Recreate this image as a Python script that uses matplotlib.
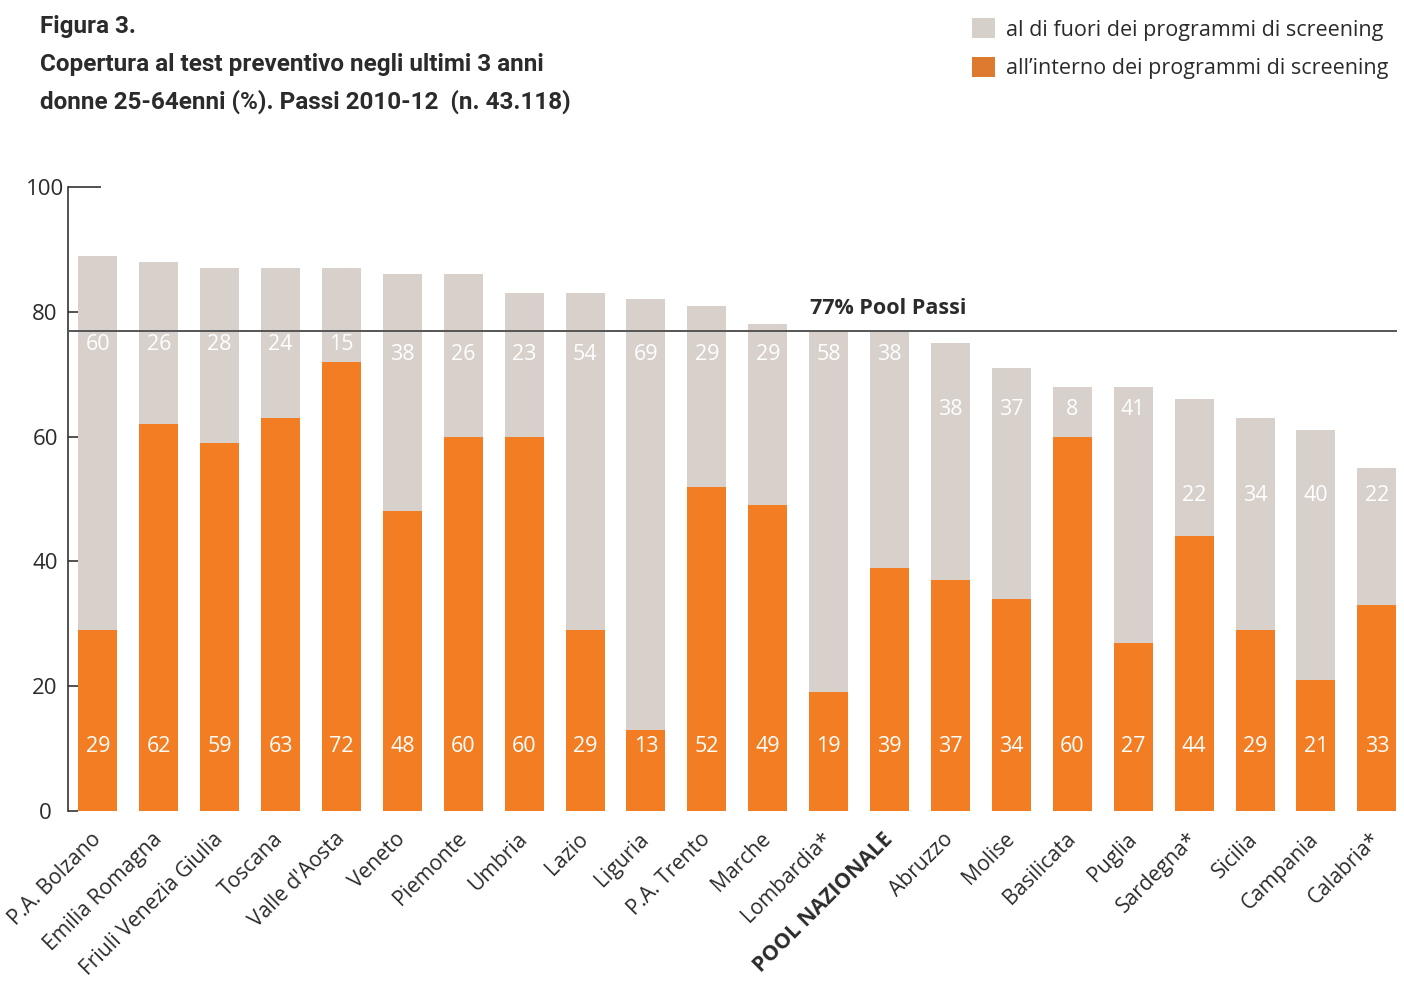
import matplotlib
matplotlib.use("Agg")
import matplotlib.pyplot as plt
from matplotlib.patches import Patch

# Copertura al test preventivo (%), donne 25-64 anni, Passi 2010-12
regioni = ["P.A. Bolzano", "Emilia Romagna", "Friuli Venezia Giulia", "Toscana",
           "Valle d'Aosta", "Veneto", "Piemonte", "Umbria", "Lazio", "Liguria",
           "P.A. Trento", "Marche", "Lombardia*", "POOL NAZIONALE", "Abruzzo",
           "Molise", "Basilicata", "Puglia", "Sardegna*", "Sicilia", "Campania",
           "Calabria*"]
interno = [29, 62, 59, 63, 72, 48, 60, 60, 29, 13, 52, 49, 19, 39, 37, 34, 60, 27, 44, 29, 21, 33]
fuori = [60, 26, 28, 24, 15, 38, 26, 23, 54, 69, 29, 29, 58, 38, 38, 37, 8, 41, 22, 34, 40, 22]
pool = 77

ARANCIO = "#F37D22"
GRIGIO = "#D8D0CA"
TESTO = "#2b2b2b"
FONT = ["Open Sans", "DejaVu Sans"]
FONT_TIT = ["Roboto", "Liberation Sans", "DejaVu Sans"]

plt.rcParams["font.family"] = FONT

fig = plt.figure(figsize=(14.04, 9.91), dpi=100)
ax = fig.add_axes([0.0484, 0.1816, 0.9466, 0.6297])

x = list(range(len(regioni)))
ax.bar(x, interno, width=0.64, color=ARANCIO, zorder=2)
ax.bar(x, fuori, width=0.64, bottom=interno, color=GRIGIO, zorder=2)

# linea del pool nazionale
ax.axhline(pool, color="#555555", lw=1.4, zorder=3)
ax.text(12.97, pool + 1.8, "%d%% Pool Passi" % pool, ha="center", va="bottom",
        fontsize=15.5, fontweight="bold", color=TESTO)

# etichette dei valori
liv_fuori = [74.7] * 5 + [73.2] * 9 + [64.4] * 4 + [50.6] * 4
for i in x:
    ax.text(i, 10.3, str(interno[i]), ha="center", va="center",
            color="white", fontsize=15.5, zorder=4)
    ax.text(i, liv_fuori[i], str(fuori[i]), ha="center", va="center",
            color="white", fontsize=15.5, zorder=4)

ax.set_xlim(-0.49, 21.33)
ax.set_ylim(0, 100)
ax.set_yticks([0, 20, 40, 60, 80, 100])
ax.tick_params(axis="y", direction="in", length=7.5, width=1.2, color="#333333",
               labelsize=16, labelcolor=TESTO, pad=16.5)
for lab in ax.get_yticklabels():
    lab.set_horizontalalignment("center")
ax.yaxis.get_major_ticks()[-1].tick1line.set_markersize(24)
for s in ["top", "right", "bottom"]:
    ax.spines[s].set_visible(False)
ax.spines["left"].set_color("#333333")
ax.spines["left"].set_linewidth(1.2)

ax.set_xticks(x)
ax.set_xticklabels(regioni, rotation=45, ha="right", va="center",
                   rotation_mode="anchor", fontsize=15.2, color=TESTO)
ax.tick_params(axis="x", length=0, pad=18)
for lab in ax.get_xticklabels():
    if lab.get_text() == "POOL NAZIONALE":
        lab.set_fontweight("bold")

# titolo
titolo = ["Figura 3.",
          "Copertura al test preventivo negli ultimi 3 anni",
          "donne 25-64enni (%). Passi 2010-12  (n. 43.118)"]
for k, riga in enumerate(titolo):
    fig.text(40 / 1404, 1 - (26 + 38 * k) / 991, riga, ha="left", va="center",
             fontsize=17.5, fontweight="bold", color=TESTO, family=FONT_TIT)

# legenda
maniglie = [Patch(facecolor="#D5D0CA", label="al di fuori dei programmi di screening"),
            Patch(facecolor="#DE7A30", label="all\u2019interno dei programmi di screening")]
fig.legend(handles=maniglie, loc="upper right", bbox_to_anchor=(1.003, 1.001),
           frameon=False, fontsize=15.5, handlelength=1.05, handleheight=1.05,
           handletextpad=0.55, labelspacing=0.75, labelcolor=TESTO,
           borderaxespad=0.5)

fig.savefig("out.png", dpi=100)
